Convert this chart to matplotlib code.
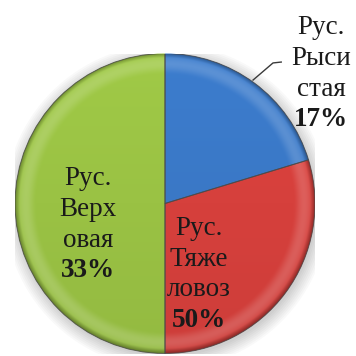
import numpy as np
import matplotlib.pyplot as plt
from matplotlib.colors import to_rgb
from matplotlib.patches import Circle, Wedge

# slice sizes as drawn (blue, red, green) and the labels shown on the chart
names = [['Рус.', 'Рыси', 'стая'], ['Рус.', 'Тяже', 'ловоз'], ['Рус.', 'Верх', 'овая']]
shares = [20.3, 29.7, 50.0]
pct_labels = ['17%', '50%', '33%']
colors = ['#3A78C6', '#D6403C', '#9AC244']

plt.rcParams['font.family'] = 'serif'
plt.rcParams['font.serif'] = ['Liberation Serif', 'DejaVu Serif']

fig = plt.figure(figsize=(3.56, 3.56), dpi=100)
ax = fig.add_axes([15 / 356, 2.5 / 356, 300 / 356, 300 / 356])

# soft shadow
for k in range(8):
    ax.add_patch(Circle((0.012, -0.02), 1.0 + 0.012 * k, color='black',
                        alpha=0.022, lw=0, zorder=0))

wedges, _ = ax.pie(shares, colors=colors, startangle=90, counterclock=False,
                   radius=1, wedgeprops=dict(linewidth=0, zorder=1))

# bevel-like shading inside each wedge
n = 600
xs = np.linspace(-1, 1, n)
X, Y = np.meshgrid(xs, xs)
R = np.hypot(X, Y)
band = np.clip((R - 0.86) / 0.14, 0, 1)
w = 0.16 * np.sin(np.pi * band) ** 1.5
d = 0.3 * np.clip((R - 0.97) / 0.03, 0, 1)
tilt = 1 + 0.04 * Y

for wd, c in zip(wedges, colors):
    base = np.array(to_rgb(c))
    img = base[None, None, :] * tilt[..., None]
    img = img * (1 - w[..., None]) + w[..., None]
    img = img * (1 - d[..., None])
    img = np.clip(img, 0, 1)
    im = ax.imshow(img, extent=(-1, 1, -1, 1), origin='lower', zorder=2,
                   interpolation='bilinear')
    im.set_clip_path(wd)
    ax.add_patch(Wedge(wd.center, wd.r, wd.theta1, wd.theta2, fill=False,
                       edgecolor='#4a4a4a', lw=0.7, alpha=0.8, zorder=3))

ax.set_xlim(-1, 1)
ax.set_ylim(-1, 1)
ax.set_aspect('equal')
ax.axis('off')

fs = 19.5
step = 0.205
# label anchor: x centre and baseline of the first line (data units)
anchors = [(1.04, 1.13), (0.227, -0.21), (-0.513, 0.123)]
for lines, p, (x0, y0) in zip(names, pct_labels, anchors):
    for i, ln in enumerate(lines):
        ax.text(x0, y0 - i * step, ln, ha='center', va='baseline', fontsize=fs,
                color='#1a1a1a', zorder=5)
    ax.text(x0, y0 - 3 * step, p, ha='center', va='baseline', fontsize=fs,
            fontweight='bold', color='#1a1a1a', zorder=5)

# leader line for the outside label
ax.plot([0.587, 0.72, 0.775], [0.823, 0.937, 0.943], color='#3a3a3a',
        lw=1.0, zorder=4, clip_on=False)

fig.savefig('out.png', dpi=100)
